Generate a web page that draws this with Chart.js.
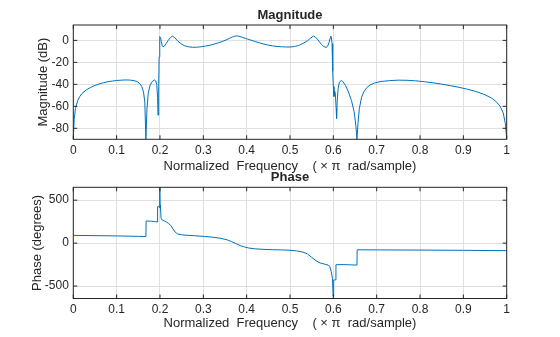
<!DOCTYPE html>
<html>
<head>
<meta charset="utf-8">
<script src="https://cdn.jsdelivr.net/npm/chart.js@4.4.1/dist/chart.umd.min.js"></script>
<style>
    html, body { margin: 0; padding: 0; background: #ffffff; }
    #wrap { position: relative; width: 560px; height: 337px; }
    #wrap canvas { position: absolute; left: 0; top: 0; }
</style>
</head>
<body>
<div id="wrap">
    <canvas id="graficaMag" width="560" height="337"></canvas>
    <canvas id="graficaPhase" width="560" height="337"></canvas>
</div>
<script>
"use strict";

/**
 * Datos
 */
const xTicks = [0, 0.1, 0.2, 0.3, 0.4, 0.5, 0.6, 0.7, 0.8, 0.9, 1];
const magTicks = [-80, -60, -40, -20, 0];
const phaseTicks = [-500, 0, 500];

const magFreq = [
    0, 0.002, 0.005, 0.01, 0.015, 0.02, 0.03, 0.04, 0.05, 0.06,
    0.07, 0.08, 0.09, 0.10, 0.11, 0.12, 0.13, 0.14, 0.148, 0.154,
    0.158, 0.162, 0.165, 0.1675, 0.170, 0.173, 0.177, 0.182, 0.187, 0.190,
    0.1925, 0.1945, 0.1955, 0.197, 0.198, 0.199, 0.2, 0.2015, 0.203, 0.205,
    0.207, 0.210, 0.214, 0.219, 0.224, 0.229, 0.234, 0.24, 0.248, 0.256,
    0.265, 0.275, 0.285, 0.295, 0.305, 0.315, 0.325, 0.335, 0.345, 0.355,
    0.363, 0.37, 0.376, 0.382, 0.39, 0.40, 0.41, 0.42, 0.43, 0.44,
    0.45, 0.46, 0.47, 0.48, 0.49, 0.50, 0.51, 0.52, 0.53, 0.54,
    0.548, 0.554, 0.558, 0.563, 0.568, 0.573, 0.578, 0.583, 0.587, 0.590,
    0.5925, 0.594, 0.5955, 0.597, 0.598, 0.599, 0.600, 0.6015, 0.603, 0.6045,
    0.6065, 0.6075, 0.609, 0.611, 0.614, 0.618, 0.622, 0.628, 0.635, 0.642,
    0.648, 0.652, 0.6545, 0.657, 0.66, 0.665, 0.67, 0.677, 0.685, 0.695,
    0.71, 0.73, 0.75, 0.77, 0.79, 0.81, 0.83, 0.85, 0.87, 0.89,
    0.91, 0.93, 0.95, 0.965, 0.975, 0.985, 0.992, 0.997, 1
];
const magDb = [
    -90, -72, -62, -55, -51, -48.3, -45, -42.8, -41, -39.6,
    -38.5, -37.6, -37, -36.5, -36.2, -36, -36.1, -36.6, -37.6, -39.5,
    -42, -47, -56, -90, -62, -48, -41, -37.5, -36, -36.8,
    -40, -52, -68, -42, -15, 0, 3.5, 2.5, -1, -4.5,
    -5.8, -5.3, -3, 0, 2.5, 3.9, 2.6, -0.2, -3, -4.8,
    -5.8, -6.3, -6.2, -5.8, -5.2, -4.4, -3.4, -2.2, -0.8, 0.8,
    2.4, 3.6, 4.1, 3.8, 2.8, 1.5, 0.2, -1.1, -2.3, -3.4,
    -4.3, -5, -5.5, -5.8, -6, -6, -5.6, -4.6, -2.8, -0.4,
    2.2, 3.9, 3.2, 1.2, -1.4, -3.8, -5.6, -6.4, -5.2, -2,
    2, 3.9, 2.5, -3, -12, -28, -42, -51, -46, -48,
    -62, -71, -55, -44, -38, -36.5, -37.5, -41, -47, -55,
    -65, -78, -90, -75, -62, -52, -47, -43, -40.5, -38.8,
    -37.4, -36.6, -36.2, -36.3, -36.8, -37.6, -38.6, -39.8, -41.2, -42.7,
    -44.5, -46.6, -49.5, -52.5, -55.5, -60, -66, -76, -90
];

const phaseFreq = [
    0, 0.05, 0.10, 0.15, 0.1675, 0.168, 0.18, 0.19, 0.194, 0.1945,
    0.197, 0.199, 0.1995, 0.2002, 0.2012, 0.2025, 0.205, 0.21, 0.215, 0.22,
    0.225, 0.23, 0.235, 0.24, 0.25, 0.26, 0.28, 0.30, 0.32, 0.34,
    0.355, 0.365, 0.375, 0.385, 0.395, 0.405, 0.42, 0.44, 0.46, 0.48,
    0.50, 0.515, 0.53, 0.54, 0.55, 0.56, 0.57, 0.58, 0.588, 0.592,
    0.595, 0.598, 0.5995, 0.6005, 0.601, 0.6055, 0.606, 0.62, 0.64, 0.6545,
    0.655, 0.70, 0.80, 0.90, 1
];
const phaseDeg = [
    90, 87, 84, 79, 77, 258, 255, 250, 246, 425,
    430, 410, 650, 440, 400, 290, 270, 258, 245, 228,
    205, 165, 128, 108, 97, 92, 86, 79, 70, 56,
    38, 18, -5, -28, -45, -57, -67, -73, -77, -79,
    -83, -90, -105, -125, -165, -205, -232, -245, -256, -272,
    -330, -410, -620, -560, -430, -427, -252, -250, -253, -256,
    -78, -79, -81, -84, -88
];

document.addEventListener("DOMContentLoaded", () => {
    const textColor = "#262626";
    const gridColor = "#dfdfdf";
    const lineColor = "#0072BD";
    const fontFamily = "'Liberation Sans', Arial, Helvetica, sans-serif";

    /**
     * Caja negra y marcas hacia adentro (estilo MATLAB)
     */
    const boxPlugin = {
        id: "boxPlugin",
        afterDraw(chart) {
            const { ctx, chartArea } = chart;
            const { left, right, top, bottom } = chartArea;
            const xs = chart.scales.x;
            const ys = chart.scales.y;
            const len = 4;

            ctx.save();
            ctx.strokeStyle = textColor;
            ctx.lineWidth = 1;
            ctx.beginPath();
            xs.ticks.forEach((t) => {
                const px = xs.getPixelForValue(t.value);
                ctx.moveTo(px, bottom);
                ctx.lineTo(px, bottom - len);
                ctx.moveTo(px, top);
                ctx.lineTo(px, top + len);
            });
            ys.ticks.forEach((t) => {
                const py = ys.getPixelForValue(t.value);
                ctx.moveTo(left, py);
                ctx.lineTo(left + len, py);
                ctx.moveTo(right, py);
                ctx.lineTo(right - len, py);
            });
            ctx.stroke();
            ctx.strokeRect(left, top, right - left, bottom - top);
            ctx.restore();
        },
    };

    function toPoints(xsArr, ysArr) {
        return xsArr.map((x, i) => ({ x: x, y: ysArr[i] }));
    }

    function setTicks(values) {
        return (scale) => {
            scale.ticks = values.map((v) => ({ value: v }));
        };
    }

    function buildChart(canvas, cfg) {
        return new Chart(canvas, {
            type: "line",
            data: {
                datasets: [
                    {
                        data: cfg.points,
                        borderColor: lineColor,
                        borderWidth: 1,
                        pointRadius: 0,
                        tension: 0,
                        fill: false,
                    },
                ],
            },
            options: {
                responsive: false,
                animation: false,
                layout: { padding: cfg.padding },
                plugins: {
                    legend: { display: false },
                    tooltip: { enabled: false },
                    title: {
                        display: true,
                        text: cfg.title,
                        fullSize: false,
                        color: textColor,
                        font: { family: fontFamily, size: 13, weight: "bold" },
                        padding: cfg.titlePadding,
                    },
                },
                scales: {
                    x: {
                        type: "linear",
                        min: 0,
                        max: 1,
                        afterBuildTicks: setTicks(xTicks),
                        afterFit: (scale) => {
                            scale.height = 36;
                        },
                        grid: { color: gridColor, drawTicks: false },
                        border: { display: false },
                        ticks: {
                            color: textColor,
                            padding: 4,
                            maxRotation: 0,
                            autoSkip: false,
                            font: { family: fontFamily, size: 12 },
                            callback: (v) => String(v),
                        },
                        title: {
                            display: true,
                            text: "Normalized  Frequency    ( × π  rad/sample)",
                            color: textColor,
                            font: { family: fontFamily, size: 13 },
                            padding: { top: 0, bottom: cfg.xTitlePad },
                        },
                    },
                    y: {
                        type: "linear",
                        min: cfg.yMin,
                        max: cfg.yMax,
                        afterBuildTicks: setTicks(cfg.yTicks),
                        afterFit: (scale) => {
                            scale.width = 73.3;
                        },
                        grid: { color: gridColor, drawTicks: false },
                        border: { display: false },
                        ticks: {
                            color: textColor,
                            padding: 4.5,
                            autoSkip: false,
                            font: { family: fontFamily, size: 12 },
                            callback: (v) => String(v),
                        },
                        title: {
                            display: true,
                            text: cfg.yLabel,
                            color: textColor,
                            font: { family: fontFamily, size: 13 },
                            padding: { top: cfg.yTitlePad, bottom: 0 },
                        },
                    },
                },
            },
            plugins: [boxPlugin],
        });
    }

    buildChart(document.querySelector("#graficaMag"), {
        points: toPoints(magFreq, magDb),
        title: "Magnitude",
        titlePadding: { top: 7.7, bottom: 1.7 },
        padding: { left: 0, right: 53.3, top: 0, bottom: 161.7 },
        yMin: -90,
        yMax: 14,
        yTicks: magTicks,
        yLabel: "Magnitude (dB)",
        yTitlePad: 36,
        xTitlePad: 1.5,
    });

    buildChart(document.querySelector("#graficaPhase"), {
        points: toPoints(phaseFreq, phaseDeg),
        title: "Phase",
        titlePadding: { top: 0, bottom: 1.7 },
        padding: { left: 0, right: 53.3, top: 170, bottom: 2.5 },
        yMin: -645,
        yMax: 650,
        yTicks: phaseTicks,
        yLabel: "Phase (degrees)",
        yTitlePad: 29.2,
        xTitlePad: 2.9,
    });
});
</script>
</body>
</html>
